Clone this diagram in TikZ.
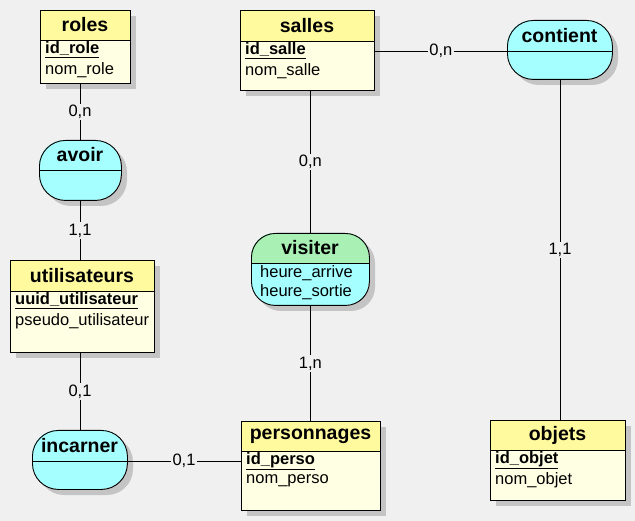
\documentclass[tikz,border=0pt]{standalone}
\usepackage{fontspec}
\setmainfont{Liberation Sans}
\usetikzlibrary{calc}
\definecolor{bg}{HTML}{F0F0F0}
\definecolor{enthead}{HTML}{FFFA9E}
\definecolor{entbody}{HTML}{FFFFE4}
\definecolor{asscyan}{HTML}{A6FFFF}
\definecolor{assgreen}{HTML}{A8F0B4}
\definecolor{shad}{HTML}{C4C4C4}
\tikzset{
  every picture/.style={x=1pt,y=-1pt},
  boxline/.style={draw=black, line width=0.9pt},
  titletxt/.style={font=\fontsize{19.5}{21}\selectfont\bfseries, inner sep=0pt},
  attrtxt/.style={font=\fontsize{16.5}{19}\selectfont, inner sep=0pt, anchor=west},
  link/.style={draw=black, line width=0.8pt},
  card/.style={fill=bg, inner sep=1.5pt, font=\fontsize{16.5}{19}\selectfont, midway},
}
% entity: name, x, y, w, h, divider y (relative), title
\newcommand{\mcdentity}[7]{%
  \fill[shad] (#2+6,#3+6) rectangle ++(#4,#5);
  \fill[entbody] (#2,#3) rectangle ++(#4,#5);
  \fill[enthead] (#2,#3) rectangle ++(#4,#6);
  \draw[boxline] (#2,#3+#6) -- ++(#4,0);
  \node[boxline, fill=none, minimum width=#4pt, minimum height=#5pt, inner sep=0pt, anchor=north west] (#1) at (#2,#3) {};
  \node[titletxt] (#1-title) at (#2+#4/2,#3+#6/2) {#7};
  \coordinate (#1-a) at (#2+5,#3+#6+10);
}
% association: name, x, y, w, h, divider y (relative), title, header colour, radius
\newcommand{\mcdassoc}[9]{%
  \fill[shad, rounded corners=#9pt] (#2+6,#3+6) rectangle ++(#4,#5);
  \begin{scope}
    \clip[rounded corners=#9pt] (#2,#3) rectangle ++(#4,#5);
    \fill[asscyan] (#2,#3) rectangle ++(#4,#5);
    \fill[#8] (#2,#3) rectangle ++(#4,#6);
  \end{scope}
  \draw[boxline] (#2,#3+#6) -- ++(#4,0);
  \node[boxline, rounded corners=#9pt, minimum width=#4pt, minimum height=#5pt, inner sep=0pt, anchor=north west] (#1) at (#2,#3) {};
  \node[titletxt] (#1-title) at (#2+#4/2,#3+#6/2) {#7};
  \coordinate (#1-dw) at (#2,#3+#6);
  \coordinate (#1-de) at (#2+#4,#3+#6);
  \coordinate (#1-a) at (#2+9,#3+#6+10);
}
\begin{document}
\begin{tikzpicture}
\fill[bg] (0,0) rectangle (635,521);
\useasboundingbox (0,0) rectangle (635,521);

% entities
\mcdentity{roles}{40}{10}{90}{73}{30}{roles}
\node[attrtxt] (roles-id) at (roles-a) {\textbf{\underline{id\_role}}};
\node[attrtxt] (roles-nom) at ($(roles-a)+(0,20)$) {nom\_role};

\mcdentity{salles}{240}{10}{134}{80}{31}{salles}
\node[attrtxt] (salles-id) at (salles-a) {\textbf{\underline{id\_salle}}};
\node[attrtxt] (salles-nom) at ($(salles-a)+(0,20)$) {nom\_salle};

\mcdentity{utilisateurs}{10}{260}{144}{92}{31}{utilisateurs}
\node[attrtxt] (util-id) at (utilisateurs-a) {\textbf{\underline{uuid\_utilisateur}}};
\node[attrtxt] (util-nom) at ($(utilisateurs-a)+(0,20)$) {pseudo\_utilisateur};

\mcdentity{personnages}{241}{421}{139}{89}{30}{personnages}
\node[attrtxt] (perso-id) at (personnages-a) {\textbf{\underline{id\_perso}}};
\node[attrtxt] (perso-nom) at ($(personnages-a)+(0,20)$) {nom\_perso};

\mcdentity{objets}{490}{420}{135}{80}{30}{objets}
\node[attrtxt] (objets-id) at (objets-a) {\textbf{\underline{id\_objet}}};
\node[attrtxt] (objets-nom) at ($(objets-a)+(0,20)$) {nom\_objet};

% associations
\mcdassoc{avoir}{39}{140}{82}{60}{30}{avoir}{asscyan}{26}
\mcdassoc{incarner}{32}{430}{95}{59}{31}{incarner}{asscyan}{26}
\mcdassoc{contient}{507}{20}{105}{59}{31}{contient}{asscyan}{26}
\mcdassoc{visiter}{251}{233}{118}{72}{30}{visiter}{assgreen}{24}
\node[attrtxt] (vis-a1) at (visiter-a) {heure\_arrive};
\node[attrtxt] (vis-a2) at ($(visiter-a)+(0,19)$) {heure\_sortie};

% links
\draw[link] (avoir.north -| 80,0) -- (roles.south -| 80,0) node[card] {0,n};
\draw[link] (avoir.south -| 80,0) -- (utilisateurs.north -| 80,0) node[card] {1,1};
\draw[link] (utilisateurs.south -| 80,0) -- (incarner.north -| 80,0) node[card] {0,1};
\draw[link] (incarner-de) -- (incarner-de -| personnages.west) node[card] {0,1};
\draw[link] (salles.south -| visiter.north) -- (visiter.north) node[card] {0,n};
\draw[link] (visiter.south) -- (visiter.south |- personnages.north) node[card] {1,n};
\draw[link] (salles.east |- contient-dw) -- (contient-dw) node[card] {0,n};
\draw[link] (contient.south -| 560,0) -- (objets.north -| 560,0) node[card] {1,1};
\end{tikzpicture}
\end{document}
